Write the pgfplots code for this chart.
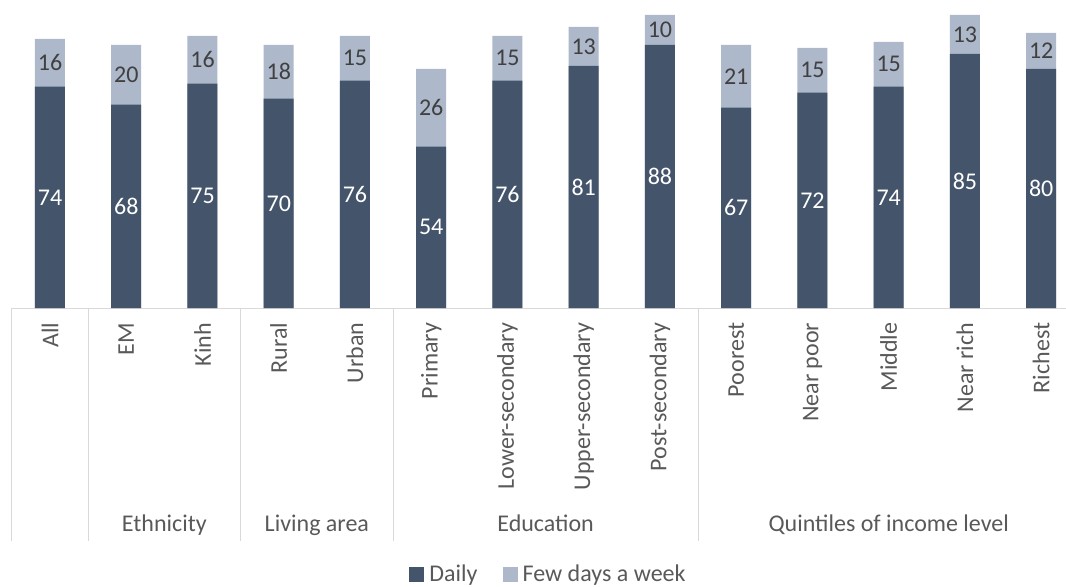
\documentclass[border=0pt]{standalone}
\usepackage{pgfplots}
\pgfplotsset{compat=1.18}
\usepackage{pgfplotstable}
\usepackage{fontspec}
\setmainfont{Carlito}

\definecolor{daily}{HTML}{44546A}
\definecolor{few}{HTML}{ADB9CA}
\definecolor{lblgray}{HTML}{595959}
\definecolor{valgray}{HTML}{404040}
\definecolor{sepgray}{HTML}{D9D9D9}
\newcommand\F{\fontsize{18}{21.6}\selectfont}

% share (%) doing it daily / a few days a week
\pgfplotstableread{
x daily few
0 74 16
1 68 20
2 75 16
3 70 18
4 76 15
5 54 26
6 76 15
7 81 13
8 88 10
9 67 21
10 72 15
11 74 15
12 85 13
13 80 12
}\shares

\begin{document}
\begin{tikzpicture}
\begin{axis}[
  at={(8.906pt,-231pt)}, anchor=south west,
  scale only axis, width=800.6pt, height=231pt,
  xmin=-0.5, xmax=13.5, ymin=0, ymax=103,
  clip=false,
  axis x line*=bottom, axis y line=none,
  x axis line style={-, draw=sepgray, line width=0.75pt},
  major tick length=0pt,
  xtick={0,...,13},
  xticklabels={All, EM, Kinh, Rural, Urban, Primary, Lower-secondary,
    Upper-secondary, Post-secondary, Poorest, Near poor, Middle, Near rich, Richest},
  xticklabel style={rotate=90, anchor=east, inner sep=0pt, text=lblgray, font=\F},
  xticklabel shift=10.9pt,
  /pgf/number format/assume math mode=true,
  legend style={at={(axis description cs:0.503,-0.865)}, anchor=center,
    draw=none, fill=none, font=\F, text=lblgray, legend columns=2,
    /tikz/every even column/.append style={column sep=17pt}},
]
\addplot[ybar, bar width=22.5pt, bar shift=0pt, fill=few, draw=none, forget plot]
  table[x=x, y expr=\thisrow{daily}+\thisrow{few}] {\shares};
\addplot[ybar, bar width=22.5pt, bar shift=0pt, fill=daily, draw=none, forget plot]
  table[x=x, y=daily] {\shares};
% value labels in the middle of each segment
\addplot[draw=none, forget plot, nodes near coords, point meta=explicit,
  every node near coord/.append style={anchor=center, text=white, font=\F}]
  table[x=x, y expr=\thisrow{daily}/2, meta=daily] {\shares};
\addplot[draw=none, forget plot, nodes near coords, point meta=explicit,
  every node near coord/.append style={anchor=center, text=valgray, font=\F}]
  table[x=x, y expr=\thisrow{daily}+\thisrow{few}/2, meta=few] {\shares};

\addlegendimage{legend image code/.code={\fill[daily] (0pt,-5.25pt) rectangle (10.5pt,5.25pt); \path (12.5pt,0pt);}}
\addlegendentry{Daily}
\addlegendimage{legend image code/.code={\fill[few] (0pt,-5.25pt) rectangle (10.5pt,5.25pt); \path (12.5pt,0pt);}}
\addlegendentry{Few days a week}

% group separators and group names
\pgfplotsinvokeforeach{-0.5,0.5,2.5,4.5,8.5,13.5}{
  \draw[sepgray, line width=0.75pt] (axis cs:#1,0) -- (axis cs:#1,-77.9);
}
\node[anchor=base, text=lblgray, font=\F] at (axis cs:1.5,-74.9) {Ethnicity};
\node[anchor=base, text=lblgray, font=\F] at (axis cs:3.5,-74.9) {Living area};
\node[anchor=base, text=lblgray, font=\F] at (axis cs:6.5,-74.9) {Education};
\node[anchor=base, text=lblgray, font=\F] at (axis cs:11,-74.9) {Quintiles of income level};
\end{axis}
\pgfresetboundingbox
\path[use as bounding box] (0,0) rectangle (799.5pt,-439.5pt);
\end{tikzpicture}
\end{document}
